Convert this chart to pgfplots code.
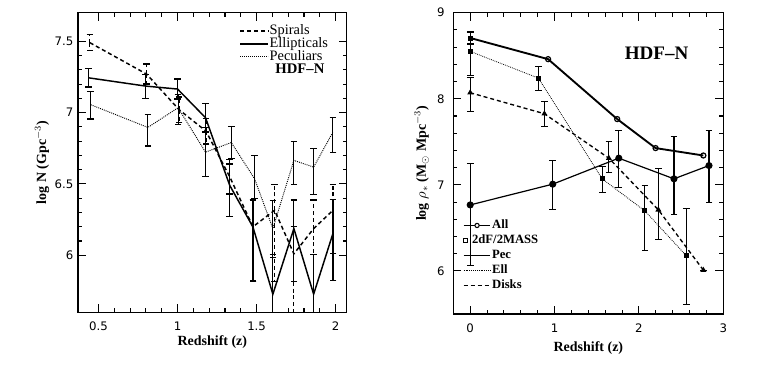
\documentclass[border=0pt]{standalone}
\usepackage{fontspec}
\setmainfont{Liberation Serif}
\newfontfamily\tickfont{DejaVu Sans}
\usepackage{pgfplots}
\pgfplotsset{compat=1.18}

\pgfplotsset{
  panel/.style={
    scale only axis, anchor=south west,
    tick align=inside, tick pos=both,
    major tick length=6pt, minor tick length=3pt,
    axis line style={line width=1pt},
    every tick/.style={black, line width=0.8pt},
    minor x tick num=4, minor y tick num=4,
    tick label style={font=\tickfont\fontsize{8.8}{10}\selectfont},
    /pgf/number format/assume math mode=true,
    label style={font=\bfseries\fontsize{10.5}{12}\selectfont},
    legend cell align=left,
  },
  ebar/.style={error bars/.cd, y dir=both, y explicit,
    error bar style={line width=#1},
    error mark options={rotate=90, solid, line width=#1, mark size=2.5pt}},
  ebars/.style={error bars/.cd, y dir=both, y explicit,
    error bar style={solid, line width=#1},
    error mark options={rotate=90, solid, line width=#1, mark size=2.5pt}},
}

\begin{document}
\begin{tikzpicture}
\useasboundingbox (0,0) rectangle (570.75pt,285.75pt);

% left panel: number density
\begin{axis}[panel,
  at={(58.5pt,51.5pt)}, width=201.5pt, height=224.7pt,
  xmin=0.37, xmax=2.07, ymin=5.6, ymax=7.7,
  xtick={0.5,1,1.5,2}, ytick={6,6.5,7,7.5},
  xticklabel style={yshift=-3.5pt},
  xlabel={Redshift (z)}, ylabel={log N (Gpc$^{-3}$)},
  x label style={at={(axis description cs:0.5,-0.098)}, anchor=center},
  y label style={at={(axis description cs:-0.134,0.5)}, anchor=center},
  legend image code/.code={\draw[#1] (0pt,0pt) -- (21pt,0pt);},
  legend style={draw=none, fill=none, inner sep=0pt,
    at={(axis description cs:0.6,0.962)}, anchor=north west,
    font=\fontsize{10.8}{12}\selectfont, row sep=0pt,
    nodes={inner sep=0.5pt, text height=7pt, text depth=1.7pt}},
]
\addplot[black, line width=1.1pt, dash pattern=on 3pt off 2.2pt, ebar=0.9pt]
  table[x=z, y=v, y error plus=ep, y error minus=em] {
z     v     ep   em
0.445 7.49  0.055 0.055
0.804 7.27  0.07 0.07
1.010 7.02  0.09 0.09
1.180 6.87  0.09 0.09
1.330 6.55  0.12 0.12
1.477 6.20  0.19 0.38
1.614 6.315 0.18 0.50
1.736 6.01  0.19 0.60
1.861 6.187 0.20 0.70
1.983 6.315 0.18 0.30
};
\addlegendentry{Spirals}
\addplot[black, line width=1.1pt, ebar=0.9pt]
  table[x=z, y=v, y error plus=ep, y error minus=em] {
z     v     ep   em
0.435 7.244 0.065 0.065
0.797 7.186 0.08 0.09
1.000 7.165 0.07 0.07
1.177 6.964 0.098 0.10
1.330 6.49  0.15 0.22
1.477 6.198 0.19 0.38
1.603 5.727 0.28 0.30
1.736 6.187 0.20 0.37
1.861 5.727 0.28 0.30
1.983 6.152 0.24 0.33
};
\addlegendentry{Ellipticals}
\addplot[black, line width=0.7pt, dash pattern=on 0.7pt off 0.8pt, ebars=0.8pt]
  table[x=z, y=v, y error plus=ep, y error minus=em] {
z     v     ep   em
0.451 7.055 0.09 0.10
0.812 6.896 0.09 0.13
1.003 7.034 0.09 0.12
1.177 6.723 0.17 0.17
1.340 6.79  0.11 0.11
1.487 6.537 0.16 0.14
1.603 6.187 0.20 0.20
1.736 6.665 0.13 0.17
1.861 6.618 0.13 0.19
1.983 6.863 0.10 0.14
};
\addlegendentry{Peculiars}
\node[font=\bfseries\fontsize{11}{12}\selectfont] at (axis description cs:0.826,0.814) {HDF--N};
\end{axis}

% right panel: stellar mass density
\begin{axis}[panel,
  at={(340pt,50.25pt)}, width=202.5pt, height=226pt,
  xmin=-0.2, xmax=3, ymin=5.5, ymax=9,
  xtick={0,1,2,3}, ytick={6,7,8,9},
  xticklabel style={yshift=-4pt}, yticklabel style={xshift=-3pt},
  xlabel={Redshift (z)}, ylabel={log $\rho_{\ast}$ (M$_\odot$ Mpc$^{-3}$)},
  x label style={at={(axis description cs:0.5,-0.114)}, anchor=center},
  y label style={at={(axis description cs:-0.117,0.5)}, anchor=center},
  legend style={draw=none, fill=none, inner sep=0pt,
    at={(axis description cs:0.035,0.317)}, anchor=north west,
    font=\bfseries\fontsize{9.5}{10}\selectfont, row sep=1.1pt,
    nodes={inner sep=0.8pt, text height=6.5pt, text depth=2pt}},
]
\addplot[black, line width=1.4pt, mark=o, mark size=1.9pt,
  mark options={solid, line width=0.9pt}, mark indices={2,3,4,5},
  legend image code/.code={\draw[black, line width=1pt] (0pt,0pt) -- (20pt,0pt);
    \filldraw[black, fill=white, line width=0.8pt] (10pt,0pt) circle (1.6pt);}]
  coordinates {(0,8.706) (0.923,8.46) (1.742,7.764) (2.197,7.427) (2.763,7.341)};
\addlegendentry{All}
\addplot[black, only marks, mark=square*, mark size=1.6pt,
  legend image code/.code={\draw[black, line width=0.6pt] (-0.2pt,-1.3pt) rectangle (2.4pt,1.3pt);},
  ebar=0.8pt]
  coordinates {(0,8.706) +- (0,0.07)};
\addlegendentry{\hspace*{-15pt}2dF/2MASS}
\addplot[black, line width=0.9pt, mark=*, mark size=2.2pt,
  legend image code/.code={\draw[black, line width=0.9pt] (0pt,0pt) -- (20pt,0pt);},
  ebar=0.9pt]
  table[x=z, y=v, y error plus=ep, y error minus=em] {
z     v     ep    em
0.000 6.767 0.477 0.707
0.978 7.008 0.275 0.290
1.761 7.310 0.318 0.341
2.415 7.070 0.490 0.410
2.830 7.224 0.406 0.430
};
\addlegendentry{Pec}
\addplot[black, line width=0.6pt, dash pattern=on 0.6pt off 0.8pt, mark=square*, mark size=1.5pt,
  mark options={solid},
  legend image code/.code={\draw[black, line width=0.6pt, dash pattern=on 0.6pt off 0.8pt] (0pt,0pt) -- (20pt,0pt);},
  ebars=0.8pt]
  table[x=z, y=v, y error plus=ep, y error minus=em] {
z     v     ep    em
0.000 8.550 0.220 0.280
0.808 8.240 0.140 0.140
1.564 7.070 0.140 0.155
2.070 6.698 0.290 0.460
2.560 6.178 0.550 0.570
};
\addlegendentry{Ell}
\addplot[black, line width=1pt, dash pattern=on 3pt off 2.2pt, mark=triangle*, mark size=1.6pt,
  mark options={solid},
  legend image code/.code={\draw[black, line width=1pt, dash pattern=on 3pt off 2.2pt] (0pt,0pt) -- (20pt,0pt);},
  ebars=0.8pt]
  table[x=z, y=v, y error plus=ep, y error minus=em] {
z     v     ep    em
0.000 8.070 0.180 0.220
0.879 7.826 0.145 0.145
1.643 7.310 0.190 0.170
2.230 6.710 0.476 0.342
2.763 6.010 0.000 0.000
};
\addlegendentry{Disks}
\node[font=\bfseries\fontsize{14.3}{15}\selectfont] at (axis description cs:0.753,0.865) {HDF--N};
\end{axis}
\end{tikzpicture}
\end{document}
